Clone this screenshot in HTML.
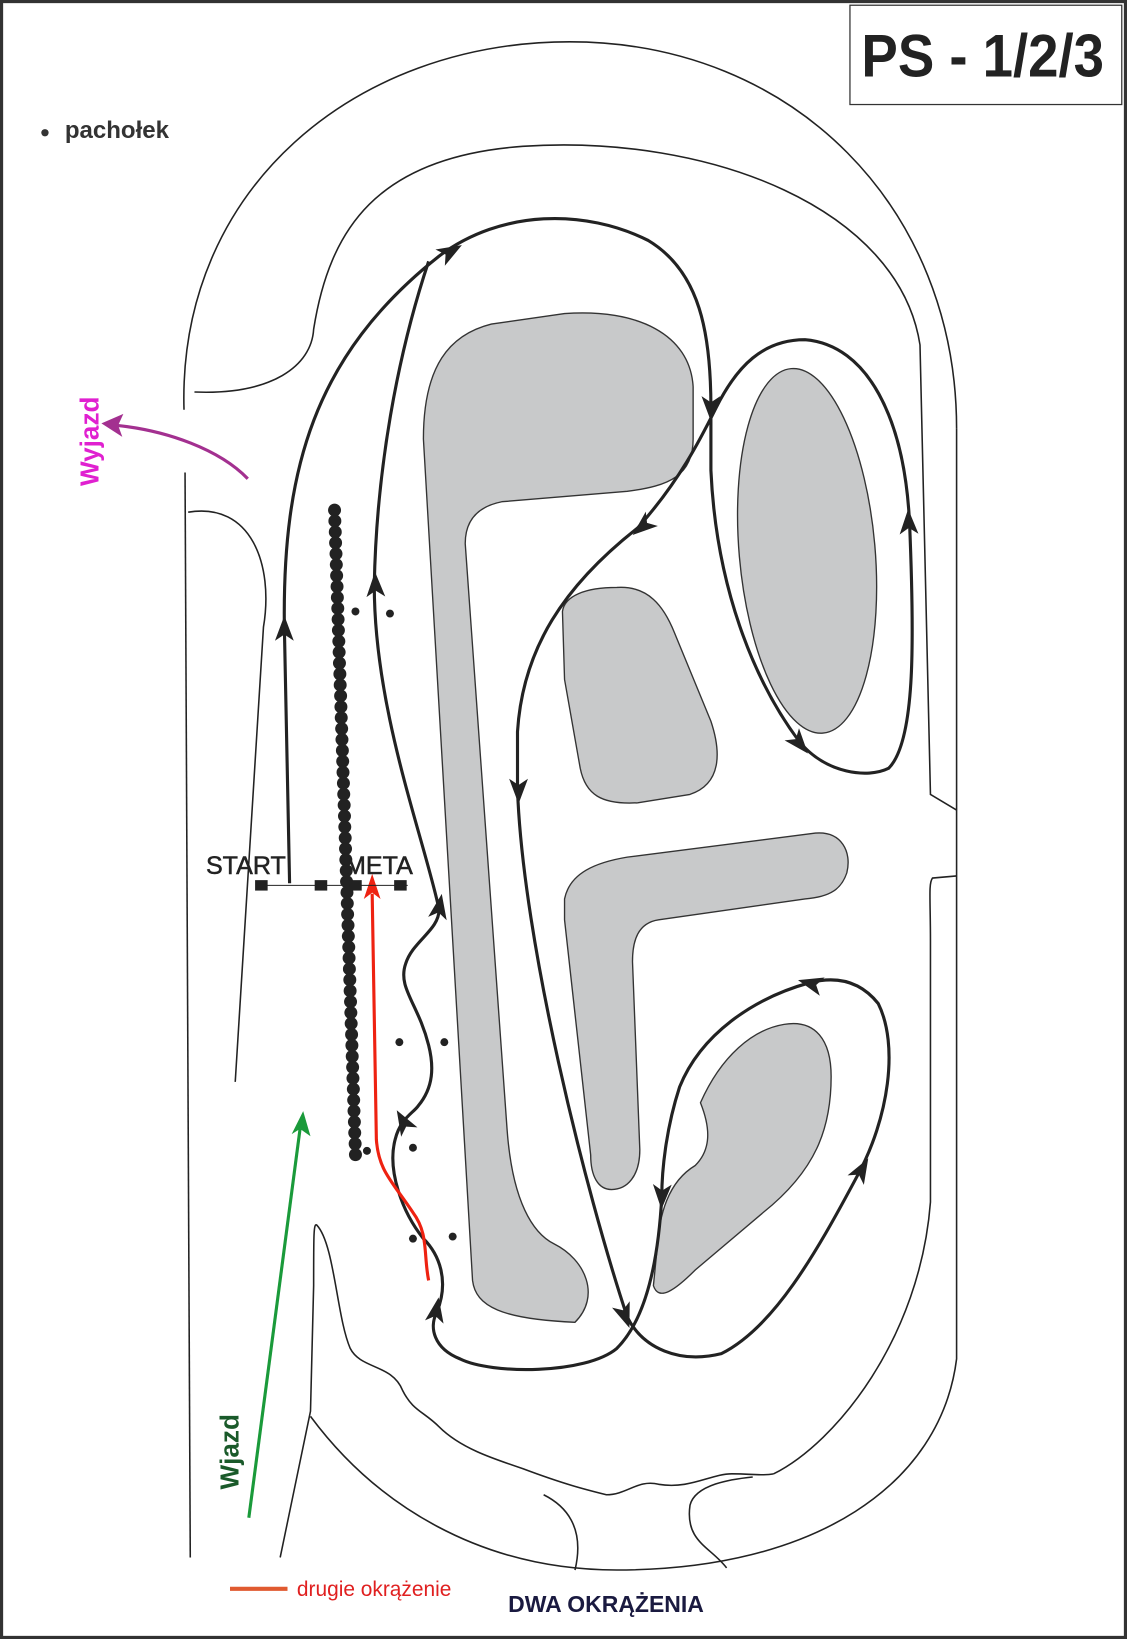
<!DOCTYPE html>
<html><head><meta charset="utf-8"><style>
html,body{margin:0;padding:0;background:#fff}
svg{display:block}
</style></head><body>
<svg width="1127" height="1639" viewBox="0 0 1078 1568" preserveAspectRatio="none" xmlns="http://www.w3.org/2000/svg" font-family="Liberation Sans, Arial, sans-serif">
<defs>
<g id="ah"><polygon points="-15,-9 9,0 -15,9 -9,0" fill="#222"/></g>
</defs>
<rect x="1.5" y="1.5" width="1075" height="1565" fill="#fff" stroke="#333" stroke-width="3"/>
<!-- title box -->
<rect x="813" y="5" width="260" height="95" fill="#fff" stroke="#333" stroke-width="1.2"/>
<text x="940" y="73" font-size="58" font-weight="bold" fill="#222" text-anchor="middle" transform="translate(940,0) scale(0.9,1) translate(-940,0)">PS - 1/2/3</text>
<circle cx="43" cy="127" r="3.5" fill="#333"/>
<text x="62" y="132" font-size="23" font-weight="bold" fill="#333">pachołek</text>

<g fill="none" stroke="#222" stroke-width="1.5">
<path d="M182,1490 L177,452"/>
<path d="M176,392 C170,180 340,40 545,40 C760,40 915,200 915,410"/>
<path d="M915,410 L915,1300 C900,1420 780,1502 590,1502 C460,1502 360,1440 297,1355"/>
<path d="M186,375 C260,378 298,350 300,315 C315,220 360,150 500,140 C680,128 860,200 880,330 L890,760 L915,775"/>
<path d="M915,838 L892,840 C888,845 890,860 890,900 L890,1150 C880,1280 800,1380 740,1410"/>
<path d="M180,490 C240,480 262,540 252,600 L225,1035"/>
<path d="M268,1490 L297,1350 L300,1230 C300,1180 300,1170 303,1172 C320,1190 322,1260 335,1290 C345,1310 375,1305 385,1330 C395,1350 405,1350 420,1365 C440,1385 470,1395 500,1405 C540,1420 560,1425 580,1430 C600,1430 610,1415 630,1420 C660,1425 680,1410 700,1410 C720,1410 730,1412 740,1410"/>
<path d="M550,1502 C560,1460 540,1440 520,1430"/>
<path d="M695,1500 C680,1480 655,1475 660,1440 C665,1420 700,1415 720,1413"/>
</g>

<g fill="#c8c9ca" stroke="#333" stroke-width="1.3">
<path d="M405,420 C405,350 430,320 470,310 L540,300 C610,295 660,320 663,370 L663,420 C663,455 640,465 600,470 L480,480 C455,485 445,500 445,520 L485,1080 C490,1150 510,1180 530,1190 C560,1205 575,1240 550,1265 C480,1262 455,1250 452,1225 Z"/>
<ellipse cx="772" cy="527" rx="65" ry="175" transform="rotate(-5 772 527)"/>
<path d="M538,585 C540,570 560,562 590,562 C620,560 635,580 645,605 L680,690 C690,720 690,750 660,760 L610,768 C575,770 560,760 555,735 L540,650 Z"/>
<path d="M540,860 C545,835 570,825 600,820 L780,797 C805,795 815,815 810,835 C805,850 795,858 770,860 L630,880 C610,883 605,900 605,920 L612,1100 C612,1125 600,1138 585,1138 C572,1138 565,1125 565,1105 L540,880 Z"/>
<path d="M670,1055 C690,1010 720,985 750,980 C780,975 795,995 795,1030 C795,1080 780,1120 730,1160 L665,1215 C645,1235 630,1245 625,1230 L628,1200 C630,1160 640,1130 665,1115 C680,1100 680,1080 670,1055 Z"/>
</g>

<g fill="none" stroke="#222" stroke-width="3">
<path d="M277,845 L272,600 C270,450 300,340 420,245 C480,200 560,200 620,230 C670,260 680,320 680,390 L680,450 C685,560 720,650 765,710 C790,740 830,745 850,735 C875,710 875,620 870,500 C865,400 830,330 770,325 C730,325 705,350 685,390 C670,420 650,460 610,505 C540,560 500,620 495,700 L495,755 C500,900 560,1140 600,1260 C615,1290 650,1305 690,1295 C740,1270 780,1200 820,1125 C850,1070 860,1000 840,960 C820,935 795,935 775,940 C720,955 670,990 650,1040 C637,1080 633,1120 633,1145 C630,1200 620,1260 590,1290 C560,1315 470,1315 440,1300 C415,1290 410,1270 418,1255 C430,1225 420,1200 405,1185 C385,1160 370,1120 378,1090 C383,1070 395,1065 400,1058 C415,1040 415,1020 410,1000 C400,960 380,945 388,922 C395,900 420,890 420,870 C405,800 358,680 358,560 C360,450 380,340 410,250"/>
</g>
<g>
<use href="#ah" transform="translate(272,598) rotate(-90)"/>
<use href="#ah" transform="translate(434,239) rotate(-30)"/>
<use href="#ah" transform="translate(680,394) rotate(90)"/>
<use href="#ah" transform="translate(767,714) rotate(50)"/>
<use href="#ah" transform="translate(869,496) rotate(-92)"/>
<use href="#ah" transform="translate(612,506) rotate(140)"/>
<use href="#ah" transform="translate(496,760) rotate(90)"/>
<use href="#ah" transform="translate(599,1262) rotate(70)"/>
<use href="#ah" transform="translate(826,1116) rotate(-60)"/>
<use href="#ah" transform="translate(772,940) rotate(195)"/>
<use href="#ah" transform="translate(633,1148) rotate(92)"/>
<use href="#ah" transform="translate(418,1250) rotate(-80)"/>
<use href="#ah" transform="translate(384,1070) rotate(-120)"/>
<use href="#ah" transform="translate(421,864) rotate(-80)"/>
<use href="#ah" transform="translate(359,556) rotate(-92)"/>
</g>

<path d="M410,1225 C405,1200 410,1180 395,1160 C375,1130 362,1120 360,1090 L356,855" fill="none" stroke="#e21" stroke-width="3"/>
<polygon points="356,836 348,860 356,854 364,860" fill="#e21"/>

<g fill="#222">
<circle cx="320.0" cy="488.0" r="6.2"/><circle cx="320.3" cy="498.4" r="6.2"/><circle cx="320.7" cy="508.9" r="6.2"/><circle cx="321.0" cy="519.3" r="6.2"/><circle cx="321.4" cy="529.8" r="6.2"/><circle cx="321.7" cy="540.2" r="6.2"/><circle cx="322.0" cy="550.7" r="6.2"/><circle cx="322.4" cy="561.1" r="6.2"/><circle cx="322.7" cy="571.6" r="6.2"/><circle cx="323.1" cy="582.0" r="6.2"/><circle cx="323.4" cy="592.6" r="6.2"/><circle cx="323.7" cy="603.0" r="6.2"/><circle cx="324.1" cy="613.5" r="6.2"/><circle cx="324.4" cy="623.9" r="6.2"/><circle cx="324.7" cy="634.4" r="6.2"/><circle cx="325.1" cy="644.8" r="6.2"/><circle cx="325.4" cy="655.3" r="6.2"/><circle cx="325.8" cy="665.7" r="6.2"/><circle cx="326.1" cy="676.2" r="6.2"/><circle cx="326.4" cy="686.6" r="6.2"/><circle cx="326.8" cy="697.1" r="6.2"/><circle cx="327.1" cy="707.5" r="6.2"/><circle cx="327.5" cy="718.0" r="6.2"/><circle cx="327.8" cy="728.4" r="6.2"/><circle cx="328.1" cy="738.9" r="6.2"/><circle cx="328.5" cy="749.3" r="6.2"/><circle cx="328.8" cy="759.8" r="6.2"/><circle cx="329.2" cy="770.2" r="6.2"/><circle cx="329.5" cy="780.7" r="6.2"/><circle cx="329.8" cy="791.1" r="6.2"/><circle cx="330.2" cy="801.6" r="6.2"/><circle cx="330.5" cy="812.0" r="6.2"/><circle cx="330.8" cy="822.5" r="6.2"/><circle cx="331.2" cy="832.9" r="6.2"/><circle cx="331.5" cy="843.4" r="6.2"/><circle cx="331.9" cy="853.8" r="6.2"/><circle cx="332.2" cy="864.3" r="6.2"/><circle cx="332.5" cy="874.7" r="6.2"/><circle cx="332.9" cy="885.2" r="6.2"/><circle cx="333.2" cy="895.6" r="6.2"/><circle cx="333.6" cy="906.1" r="6.2"/><circle cx="333.9" cy="916.5" r="6.2"/><circle cx="334.2" cy="927.0" r="6.2"/><circle cx="334.6" cy="937.4" r="6.2"/><circle cx="334.9" cy="947.9" r="6.2"/><circle cx="335.3" cy="958.3" r="6.2"/><circle cx="335.6" cy="968.8" r="6.2"/><circle cx="335.9" cy="979.2" r="6.2"/><circle cx="336.3" cy="989.7" r="6.2"/><circle cx="336.6" cy="1000.1" r="6.2"/><circle cx="336.9" cy="1010.6" r="6.2"/><circle cx="337.3" cy="1021.0" r="6.2"/><circle cx="337.6" cy="1031.5" r="6.2"/><circle cx="338.0" cy="1041.9" r="6.2"/><circle cx="338.3" cy="1052.4" r="6.2"/><circle cx="338.6" cy="1062.8" r="6.2"/><circle cx="339.0" cy="1073.3" r="6.2"/><circle cx="339.3" cy="1083.7" r="6.2"/><circle cx="339.7" cy="1094.2" r="6.2"/><circle cx="340.0" cy="1104.6" r="6.2"/>
<circle cx="340" cy="585" r="3.8"/><circle cx="373" cy="587" r="3.8"/><circle cx="382" cy="997" r="3.8"/><circle cx="425" cy="997" r="3.8"/><circle cx="395" cy="1098" r="3.8"/><circle cx="351" cy="1101" r="3.8"/><circle cx="395" cy="1185" r="3.8"/><circle cx="433" cy="1183" r="3.8"/>
</g>

<line x1="245" y1="847" x2="390" y2="847" stroke="#222" stroke-width="1"/>
<g fill="#222"><rect x="244" y="842" width="12" height="10"/><rect x="301" y="842" width="12" height="10"/><rect x="334" y="842" width="12" height="10"/><rect x="377" y="842" width="12" height="10"/></g>
<text x="197" y="836" font-size="24" fill="#222" stroke="#222" stroke-width="0.5">START</text>
<text x="330" y="836" font-size="24" fill="#222" stroke="#222" stroke-width="0.5">META</text>

<path d="M237,458 C210,430 160,412 112,407" fill="none" stroke="#a33090" stroke-width="3"/>
<polygon points="97,405 118,396 113,407 117,418" fill="#a33090"/>
<text transform="translate(94,465) rotate(-90)" font-size="25" font-weight="bold" fill="#e020d0">Wyjazd</text>
<line x1="238" y1="1452" x2="287" y2="1080" stroke="#1a9a3a" stroke-width="3"/>
<polygon points="290,1063 297,1087 287,1080 279,1085" fill="#1a9a3a"/>
<text transform="translate(228,1425) rotate(-90)" font-size="25" font-weight="bold" fill="#1a5a2a">Wjazd</text>

<line x1="220" y1="1520" x2="275" y2="1520" stroke="#e05a30" stroke-width="4"/>
<text x="284" y="1527" font-size="20" fill="#e02020">drugie okrążenie</text>
<text x="486" y="1542" font-size="22" font-weight="bold" fill="#1a1a40">DWA OKRĄŻENIA</text>
</svg>
</body></html>
